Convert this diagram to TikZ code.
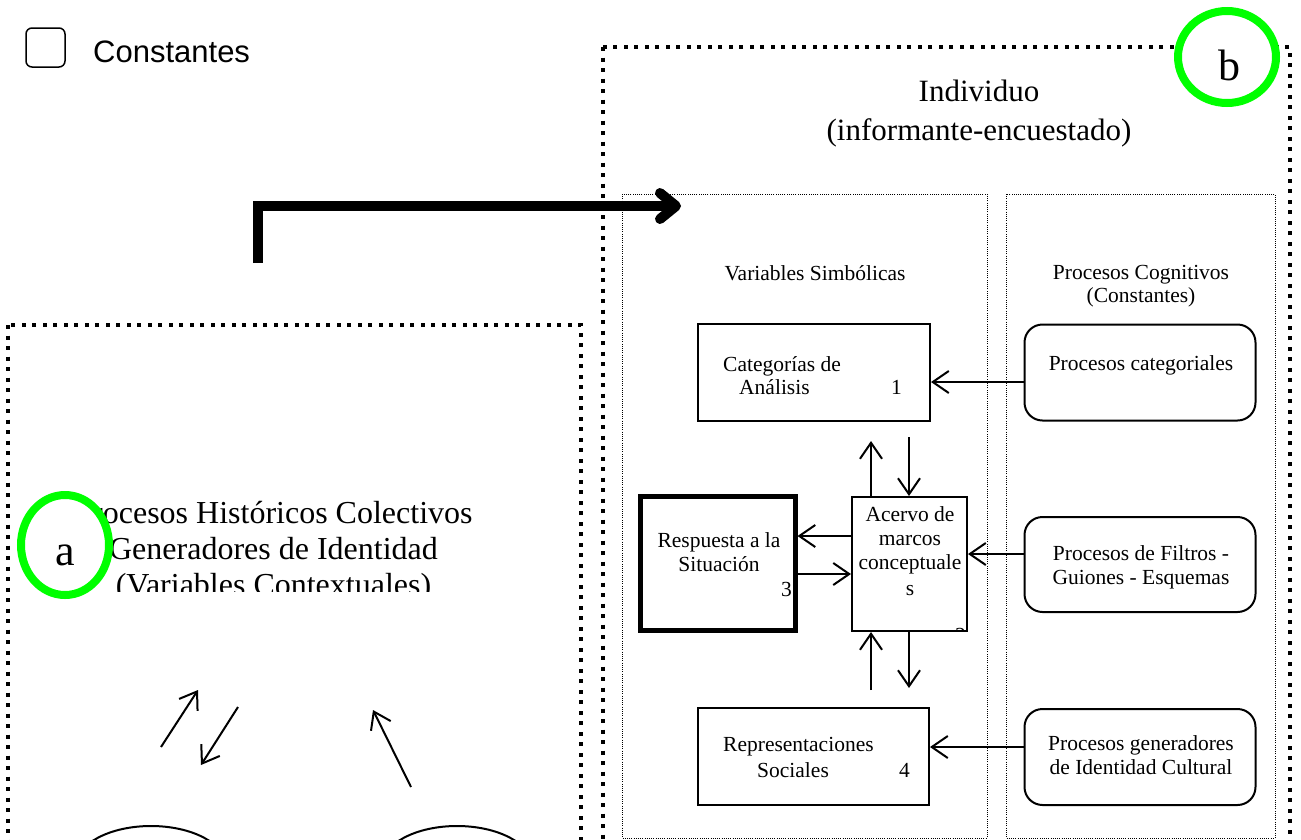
\documentclass[tikz,border=0pt]{standalone}
\usepackage{fontspec}
\setmainfont{Liberation Serif}
\newfontfamily\legendfont{Liberation Sans}
\usetikzlibrary{arrows.meta,shapes.geometric}
\definecolor{mygreen}{RGB}{0,255,0}
\begin{document}
\begin{tikzpicture}[x=1pt,y=-1pt,
  bigframe/.style={line width=4pt, dash pattern=on 4pt off 6.5pt},
  panel/.style={line width=1pt, dash pattern=on 1pt off 1.2pt},
  box/.style={draw, line width=2pt, rectangle, inner sep=0pt},
  rbox/.style={draw, line width=2pt, rectangle, rounded corners=18pt, inner sep=0pt},
  arr/.style={line width=2pt, -{Straight Barb[length=16pt,width=22pt]}},
  bigarrow/.style={line width=10pt, -{Straight Barb[length=16pt,width=26pt,round]}},
  small/.style={inner sep=0pt, anchor=base, font=\fontsize{21.5}{25}\selectfont},
  big/.style={inner sep=0pt, anchor=base, font=\fontsize{31}{36}\selectfont},
  leftbig/.style={inner sep=0pt, anchor=base, font=\fontsize{32}{36}\selectfont},
  greenmark/.style={ellipse, draw=mygreen, line width=8pt, fill=white, inner sep=0pt},
  marklabel/.style={inner sep=0pt, anchor=base, font=\fontsize{44}{44}\selectfont},
  oval/.style={ellipse, draw, line width=2pt, inner sep=0pt}
]
\clip (0,0) rectangle (1301,839);
\fill[white] (0,0) rectangle (1301,839);

% legend
\node[draw, line width=1.5pt, rounded corners=6pt, minimum size=39pt, inner sep=0pt] (leg) at (45.5,47.5) {};
\node[anchor=base west, inner sep=0pt, font=\legendfont\fontsize{31}{31}\selectfont] (legt) at (93,62) {Constantes};

% frames
\draw[bigframe] (8,325) rectangle (581,900);
\draw[bigframe] (603,47) rectangle (1290,900);
\draw[panel] (622,194) rectangle (987,838);
\draw[panel] (1006,194) rectangle (1275,838);

% left frame text (clipped)
\begin{scope}
\clip (0,0) rectangle (1301,591);
\node[leftbig] (l1) at (273.5,523) {Procesos Históricos Colectivos};
\node[leftbig] (l2) at (273.5,559) {Generadores de Identidad};
\node[leftbig] (l3) at (273.5,595) {(Variables Contextuales)};
\end{scope}

% left frame arrows and ovals
\node[oval, minimum width=150pt, minimum height=80pt] (e1) at (151,866) {};
\node[oval, minimum width=150pt, minimum height=80pt] (e2) at (457,866) {};
\coordinate (a1s) at (161,747); \coordinate (a1e) at (198,690);
\coordinate (a2s) at (238,707); \coordinate (a2e) at (201,765);
\coordinate (a3s) at (411,787); \coordinate (a3e) at (373,710);
\draw[arr] (a1s) -- (a1e);
\draw[arr] (a2s) -- (a2e);
\draw[arr] (a3s) -- (a3e);

% titles
\node[big] (ind1) at (979,101) {Individuo};
\node[big] (ind2) at (979,140) {(informante-encuestado)};
\node[small] (vs) at (815,280) {Variables Simbólicas};
\node[small] (pcg1) at (1141,279) {Procesos Cognitivos};
\node[small] (pcg2) at (1141,302) {(Constantes)};

% boxes
\node[box, minimum width=232pt, minimum height=97pt] (cat) at (814,372.5) {};
\node[box, line width=5pt, minimum width=155pt, minimum height=134pt] (resp) at (717.5,563.5) {};
\node[box, minimum width=115pt, minimum height=134pt] (ace) at (909.5,564) {};
\node[box, minimum width=231pt, minimum height=97pt] (rep) at (813.5,756.5) {};
\node[rbox, minimum width=231pt, minimum height=96pt] (pc) at (1140,372.5) {};
\node[rbox, minimum width=231pt, minimum height=95pt] (pf) at (1140,564.5) {};
\node[rbox, minimum width=231pt, minimum height=96pt] (pg) at (1140,757) {};

% box texts
\node[small, anchor=base west] (cat1) at (723,371) {Categorías de};
\node[small, anchor=base west] (cat2) at (739,394) {Análisis};
\node[small, anchor=base west] (cat3) at (891,394) {1};
\node[small] (ace1) at (910,521) {Acervo de};
\node[small] (ace2) at (910,545) {marcos};
\node[small] (ace3) at (910,569) {conceptuale};
\node[small] (ace4) at (910,595) {s};
\begin{scope}
\clip (852,497) rectangle (967,630);
\node[small, anchor=base west] (ace5) at (955,642) {2};
\end{scope}
\node[small] (resp1) at (719,547) {Respuesta a la};
\node[small] (resp2) at (719,571) {Situación};
\node[small, anchor=base west] (resp3) at (781,596) {3};
\node[small, anchor=base west] (rep1) at (723,751) {Representaciones};
\node[small, anchor=base west] (rep2) at (757,777) {Sociales};
\node[small, anchor=base west] (rep3) at (899,777) {4};
\node[small] (pc1) at (1141,370) {Procesos categoriales};
\node[small] (pf1) at (1141,560) {Procesos de Filtros -};
\node[small] (pf2) at (1141,584) {Guiones - Esquemas};
\node[small] (pg1) at (1141,750) {Procesos generadores};
\node[small] (pg2) at (1141,774) {de Identidad Cultural};

% connectors
\coordinate (y1) at (0,382);
\coordinate (y2) at (0,554);
\coordinate (y3) at (0,747);
\coordinate (y4) at (0,536);
\coordinate (y5) at (0,574);
\draw[arr] (pc.west |- y1) -- (cat.east |- y1);
\draw[arr] (pf.west |- y2) -- (ace.east |- y2);
\draw[arr] (pg.west |- y3) -- (rep.east |- y3);
\draw[arr] (ace.west |- y4) -- (resp.east |- y4);
\draw[arr] (resp.east |- y5) -- (ace.west |- y5);
\coordinate (t1) at (871,441);
\coordinate (t2) at (909,437);
\coordinate (t3) at (871,690);
\coordinate (t4) at (909,688);
\draw[arr] (ace.north -| t1) -- (t1);
\draw[arr] (t2) -- (ace.north -| t2);
\draw[arr] (t3) -- (ace.south -| t3);
\draw[arr] (ace.south -| t4) -- (t4);

% big arrow
\coordinate (ba1) at (258,263);
\coordinate (ba2) at (681,206);
\draw[bigarrow] (ba1) |- (ba2);

% green markers
\node[greenmark, minimum width=88pt, minimum height=100pt] (ca) at (65,545) {};
\node[marklabel] (la) at (65,565) {a};
\node[greenmark, minimum width=98pt, minimum height=92pt] (cb) at (1227,57) {};
\node[marklabel] (lb) at (1229,80) {b};
\end{tikzpicture}
\end{document}
